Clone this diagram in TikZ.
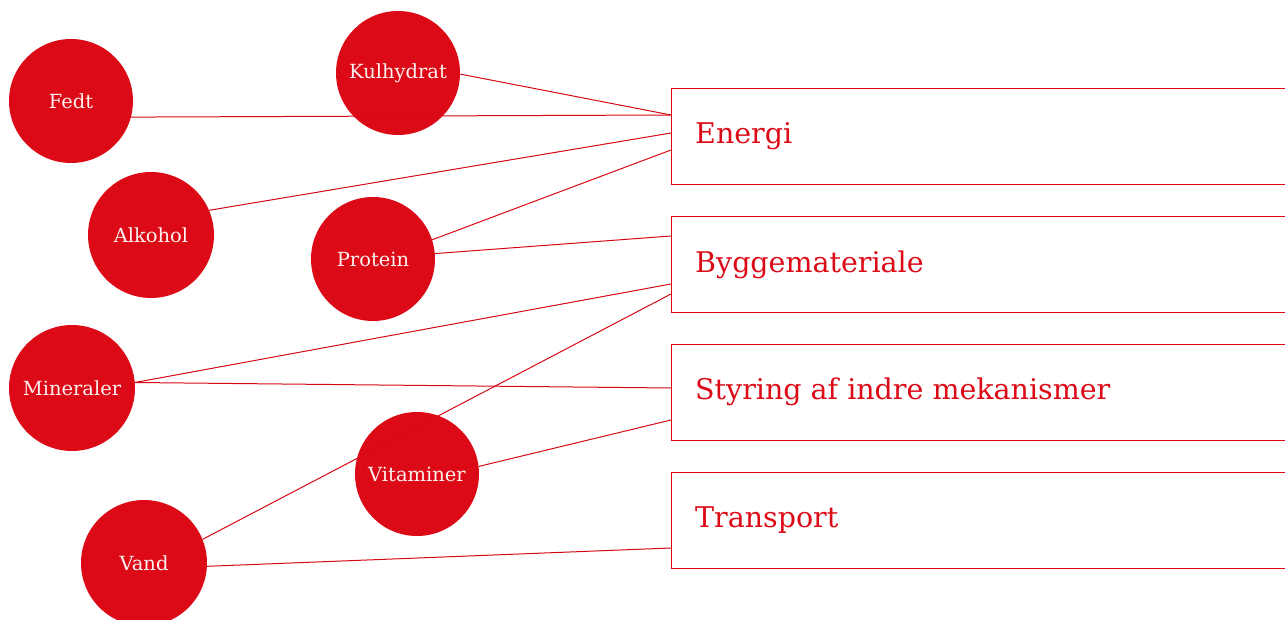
\documentclass[tikz,border=0pt]{standalone}
\usepackage{fontspec}
\setmainfont{DejaVu Serif}
\definecolor{dkred}{RGB}{220,10,22}
\definecolor{linkred}{RGB}{214,8,20}
\definecolor{offwhite}{RGB}{252,240,240}
\tikzset{
  nut/.style={circle, fill=dkred, draw=none, inner sep=0pt, minimum size=124pt, text=offwhite, font=\fontsize{19.5}{22}\selectfont},
  usebox/.style={rectangle, draw=dkred, line width=1pt, anchor=north west, minimum width=640pt, minimum height=96pt, inner sep=0pt},
  boxlabel/.style={anchor=base west, text=dkred, font=\fontsize{28.5}{32}\selectfont, inner sep=0pt},
  link/.style={draw=linkred, line width=1pt}
}
\begin{document}
\begin{tikzpicture}[x=1pt,y=-1pt]
\useasboundingbox (0,0) rectangle (1285,620);
% circles
\node[nut] (fedt) at (71,101) {Fedt};
\node[nut] (kul) at (398,73) {Kulhydrat};
\node[nut, minimum size=126pt] (alk) at (151,235) {Alkohol};
\node[nut] (prot) at (373,259) {Protein};
\node[nut, minimum size=126pt] (min) at (72,388) {Mineraler};
\node[nut] (vit) at (417,474) {Vitaminer};
\node[nut, minimum size=126pt] (vand) at (144,563) {Vand};
% boxes
\node[usebox] (energi) at (671,88) {};
\node[usebox] (bygg) at (671,216) {};
\node[usebox] (styr) at (671,344) {};
\node[usebox] (trans) at (671,472) {};
\node[boxlabel] (lenergi) at (695,144) {Energi};
\node[boxlabel] (lbygg) at (695,273) {Byggemateriale};
\node[boxlabel] (lstyr) at (695,399.5) {Styring af indre mekanismer};
\node[boxlabel] (ltrans) at (695,527.5) {Transport};
% links
\draw[link] (fedt.-15) -- ([yshift=-27pt]energi.north west);
\draw[link] (kul.-1) -- ([yshift=-27pt]energi.north west);
\draw[link] (alk.23) -- ([yshift=-45pt]energi.north west);
\draw[link] (prot.18) -- ([yshift=-62pt]energi.north west);
\draw[link] (prot.5) -- ([yshift=-20pt]bygg.north west);
\draw[link] (min.5) -- ([yshift=-68pt]bygg.north west);
\draw[link] (min.5) -- ([yshift=-44pt]styr.north west);
\draw[link] (vand.22) -- ([yshift=-78pt]bygg.north west);
\draw[link] (vit.7) -- ([yshift=-76pt]styr.north west);
\draw[link] (vand.-3) -- ([yshift=-76pt]trans.north west);
\end{tikzpicture}
\end{document}
